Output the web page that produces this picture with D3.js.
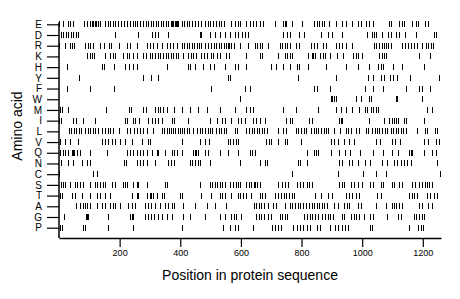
<!DOCTYPE html>
<html>
<head>
<meta charset="utf-8">
<script src="https://cdn.jsdelivr.net/npm/d3@7"></script>
<style>
  body { margin: 0; background: #fff; }
  text { font-family: "Liberation Sans", Arial, sans-serif; }
</style>
</head>
<body>
<svg id="chart" width="460" height="299"></svg>
<script>
// residue positions of each amino acid
const aminoAcids = ['E','D','R','K','H','Y','F','W','M','I','L','V','Q','N','C','S','T','A','G','P']
const seqLength = 1260
const xTicks = [200, 400, 600, 800, 1000, 1200]

const posE = [1,12,30,37,45,82,92,101,109,113,118,122,127,130,136,153,161,169,177,186,194,204,213,224,235,244,252,
  256,267,278,286,295,303,311,319,327,336,344,352,360,369,373,377,381,385,388,393,405,413,421,429,440,448,457,470,481,490,498,509,
  519,527,534,543,568,579,590,598,618,629,640,650,662,673,711,739,745,748,767,803,842,851,858,866,875,891,913,935,946,968,985,996,
  1012,1023,1035,1088,1096,1121,1130,1138,1165,1176,1185,1207,1218]
const posD = [7,14,22,31,40,47,56,64,186,259,306,317,325,358,465,470,498,514,531,547,564,580,591,602,613,624,740,751,762,792,809,
  864,886,902,935,1015,1031,1039,1047,1064,1086,1094,1113,1122,1141,1179,1236,1244]
const posR = [1,21,35,43,50,87,95,103,112,136,147,164,171,197,224,233,256,289,300,311,322,339,355,366,377,388,405,413,421,429,438,
  446,454,462,470,481,492,503,511,519,528,535,543,552,557,560,568,576,598,623,645,653,662,670,689,728,736,744,752,761,782,792,831,
  840,851,870,880,913,924,935,946,968,1039,1046,1055,1064,1072,1077,1086,1095,1132,1141,1152,1160,1170,1181,1198,1209,1218,1226,1233]
const posK = [92,101,109,116,153,169,177,186,212,224,231,245,256,278,286,300,308,317,325,333,344,352,360,369,377,385,393,410,426,
  435,443,451,470,479,487,501,509,521,530,552,560,618,662,670,722,744,752,761,768,822,833,839,844,861,870,877,894,916,937,970,979,
  987,998,1055,1064,1072,1079,1187,1225]
const posH = [26,142,147,180,219,230,244,256,355,426,432,448,476,498,511,546,579,590,618,700,716,739,761,785,792,820,880,946,985,
  1023,1053,1061,1068,1101,1132,1203]
const posY = [65,278,303,327,557,565,789,913,1020,1035,1062,1072,1092,1101,1114,1157,1253]
const posF = [26,101,180,503,612,631,840,851,895,1009,1035,1068,1143,1187,1198,1225]
const posW = [597,897,902,908,913,979,996,1022,1029,1111,1116,1198]
const posM = [3,9,29,154,230,237,278,286,317,325,333,344,355,380,405,432,459,487,532,579,618,631,640,740,782,853,913,930,946,968,
  990,1009,1016,1028,1035,1044,1053,1214,1231]
const posI = [1,7,47,56,80,120,218,223,245,251,264,294,306,317,327,339,372,380,426,498,521,538,546,568,590,601,612,640,651,662,678,
  749,761,768,825,833,924,930,935,1023,1072,1088,1097,1105,1110,1119,1137,1145,1203]
const posL = [32,40,48,57,65,73,87,95,103,112,120,128,142,153,161,169,178,197,224,235,246,256,267,278,289,311,339,347,355,363,369,
  377,382,391,399,407,413,421,429,443,454,465,472,481,490,498,505,519,528,535,543,552,579,587,618,626,635,644,652,659,668,677,686,
  722,739,749,782,789,798,807,814,831,840,847,855,864,873,880,888,908,927,946,954,963,979,990,1012,1020,1033,1042,1049,1057,1066,
  1075,1082,1094,1101,1110,1119,1127,1134,1143,1181,1207,1214,1240,1247]
const posV = [2,21,36,64,142,152,163,174,185,201,218,240,273,294,300,405,465,481,495,557,565,574,583,590,683,692,700,722,744,752,
  798,897,908,919,941,957,974,1047,1058,1099,1108,1124,1203,1218,1242,1255]
const posQ = [3,12,20,31,42,45,49,58,69,102,157,223,234,245,256,267,278,289,306,322,325,349,374,380,388,405,443,447,451,459,481,490,
  530,557,590,629,637,645,818,840,847,855,897,924,943,960,993,1035,1068,1097,1119,1156,1160,1163,1203,1231,1242]
const posN = [5,29,47,75,93,103,213,222,256,267,278,289,317,360,369,380,432,440,448,457,465,498,596,662,678,686,787,796,817,924,935,
  957,968,987,1009,1025,1064,1082,1105,1115,1127,1137,1148,1160,1247]
const posC = [1,113,124,770,919,1004,1047,1080,1258]
const posS = [7,14,20,36,53,60,69,78,102,119,126,135,144,152,174,185,212,218,223,245,256,261,289,349,355,465,498,505,513,521,530,537,
  546,565,574,583,589,596,618,626,634,642,647,653,662,723,734,745,756,784,795,805,817,824,834,924,932,941,963,974,986,999,1025,1035,
  1061,1068,1097,1105,1123,1132,1165,1174,1189,1198,1207,1214,1222,1231]
const posT = [3,9,42,53,75,102,124,135,152,168,240,256,261,289,300,303,311,322,339,347,399,407,470,501,531,538,546,568,590,598,607,
  616,634,662,670,678,711,722,733,742,749,758,768,776,844,864,886,902,946,957,968,979,990,1049,1061,1154,1163,1171,1181,1214,1225,
  1236,1247]
const posA = [56,69,80,86,93,102,124,141,152,168,177,185,201,228,240,251,284,292,303,317,333,349,360,372,380,410,448,487,513,550,642,
  651,659,667,675,689,706,716,744,761,768,778,787,796,804,814,825,833,842,851,858,866,875,884,908,919,941,950,958,985,996,1046,1077,
  1097,1105,1112,1121,1130,1187,1196,1218,1231]
const posG = [16,89,92,97,163,234,240,245,284,292,303,314,327,341,355,372,410,432,481,530,546,568,576,585,601,651,659,667,675,689,700,
  728,736,744,752,809,818,827,835,844,855,868,877,886,895,903,932,941,963,972,980,989,1007,1025,1035,1082,1119,1127,1170,1178,1187,
  1196,1203]
const posP = [3,9,78,86,163,245,405,542,564,580,591,641,701,712,723,731,773,784,795,805,817,828,850,861,894,910,921,932,943,954,1025,
  1032,1156,1185,1193,1201]

const positions = {E:posE, D:posD, R:posR, K:posK, H:posH, Y:posY, F:posF, W:posW, M:posM, I:posI,
  L:posL, V:posV, Q:posQ, N:posN, C:posC, S:posS, T:posT, A:posA, G:posG, P:posP}

const marks = aminoAcids.flatMap(aa => positions[aa].map(p => ({aa: aa, pos: p})))

const svg = d3.select('#chart')
const margin = {top: 24.3, bottom: 61, left: 59, right: 19}
const width = +svg.attr('width')
const height = +svg.attr('height')

const xScale = d3.scaleLinear()
  .domain([0, seqLength])
  .range([margin.left, width - margin.right])

const yScale = d3.scalePoint()
  .domain(aminoAcids)
  .range([margin.top, 227.7])

const axisY = height - margin.bottom

// the marks
svg.append('g')
  .selectAll('line')
  .data(marks)
  .join('line')
  .attr('x1', d => Math.round(xScale(d.pos)) + 0.5)
  .attr('x2', d => Math.round(xScale(d.pos)) + 0.5)
  .attr('y1', d => Math.round(yScale(d.aa)) - 3)
  .attr('y2', d => Math.round(yScale(d.aa)) + 3)
  .attr('stroke', '#000')
  .attr('stroke-width', 1)

// x axis
const xAxis = svg.append('g')
  .attr('transform', `translate(0,${axisY})`)
  .call(d3.axisBottom(xScale).tickValues(xTicks).tickFormat(d3.format('d'))
    .tickSize(9).tickPadding(3).tickSizeOuter(0))
xAxis.select('.domain').attr('stroke-width', 1.5)
xAxis.selectAll('.tick line').attr('stroke-width', 1.2)
xAxis.selectAll('text').attr('font-size', 9).attr('font-family', '"Liberation Sans", Arial, sans-serif')

xAxis.append('text')
  .attr('x', (margin.left + width - margin.right) / 2)
  .attr('y', 42)
  .attr('text-anchor', 'middle')
  .attr('fill', '#000')
  .attr('font-size', 14)
  .text('Position in protein sequence')

// y axis
const yAxis = svg.append('g')
  .attr('transform', `translate(${margin.left},0)`)
  .call(d3.axisLeft(yScale).tickSize(12).tickPadding(5).tickSizeOuter(0))
yAxis.select('.domain').attr('d', `M0,${margin.top - 2}V${axisY}`).attr('stroke-width', 1.5)
yAxis.selectAll('.tick line').attr('stroke-width', 1.2)
yAxis.selectAll('text').attr('font-size', 10).attr('font-family', '"Liberation Sans", Arial, sans-serif')

svg.append('text')
  .attr('transform', `translate(22,${(margin.top + 227.7) / 2}) rotate(-90)`)
  .attr('text-anchor', 'middle')
  .attr('font-size', 14)
  .text('Amino acid')
</script>
</body>
</html>
